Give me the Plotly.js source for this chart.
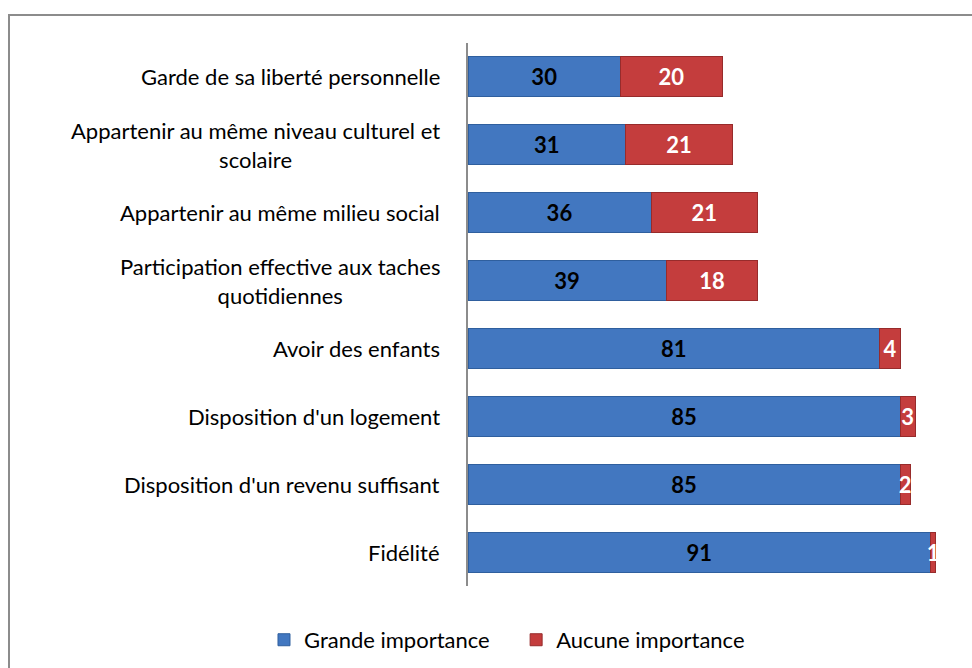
<!DOCTYPE html>
<html>
<head>
<meta charset="utf-8">
<script src="https://cdn.plot.ly/plotly-3.0.1.min.js"></script>
<style>
  body { margin: 0; background: #fff; }
  #chart { width: 972px; height: 668px; position: relative; }
  #frame { position: absolute; left: 8px; top: 14px; width: 980px; height: 680px;
           border-left: 2px solid #8c8c8c; border-top: 2px solid #8c8c8c;
           pointer-events: none; }
</style>
</head>
<body>
<div id="chart"></div>
<div id="frame"></div>
<script>
// bottom to top
var categories = [
    'Fidélité',
    "Disposition d'un revenu suffisant",
    "Disposition d'un logement",
    'Avoir des enfants',
    'Participation effective aux taches<br>quotidiennes',
    'Appartenir au même milieu social',
    'Appartenir au même niveau culturel et<br>scolaire',
    'Garde de sa liberté personnelle'
];
var grande = [91, 85, 85, 81, 39, 36, 31, 30];
var aucune = [1, 2, 3, 4, 18, 21, 21, 20];

var textFont = 'Lato, "Open Sans", sans-serif';

var trGrande = {
    y: categories,
    x: grande,
    type: 'bar',
    orientation: 'h',
    name: 'Grande importance',
    legend: 'legend',
    text: grande.map(String),
    textposition: 'inside',
    insidetextanchor: 'middle',
    constraintext: 'none',
    textfont: { family: textFont, size: 22, color: '#000', weight: 'bold' },
    marker: { color: '#4277c0', line: { color: '#2f5f9e', width: 1 } },
    hoverinfo: 'x+name'
};

var trAucune = {
    y: categories,
    x: aucune,
    type: 'bar',
    orientation: 'h',
    name: 'Aucune importance',
    legend: 'legend2',
    text: aucune.map(String),
    textposition: 'inside',
    insidetextanchor: 'middle',
    constraintext: 'none',
    textfont: { family: textFont, size: 22, color: '#fff', weight: 'bold' },
    marker: { color: '#c43d3d', line: { color: '#972b2b', width: 1 } },
    cliponaxis: false,
    hoverinfo: 'x+name'
};

var labels = categories.map(function (c) {
    return {
        x: 0, y: c, xref: 'x', yref: 'y',
        text: c, showarrow: false,
        xanchor: 'right', align: 'center', xshift: -26,
        font: { family: textFont, size: 22, color: '#000' }
    };
});

var legendFont = { family: textFont, size: 22, color: '#000' };

var layout = {
    width: 972,
    height: 668,
    margin: { l: 468, r: 16, t: 43, b: 82 },
    barmode: 'stack',
    bargap: 0.41,
    paper_bgcolor: '#fff',
    plot_bgcolor: '#fff',
    font: { family: textFont, size: 22, color: '#000' },
    xaxis: {
        range: [0, 96],
        showgrid: false,
        zeroline: false,
        showticklabels: false,
        showline: false
    },
    yaxis: {
        showgrid: false,
        showticklabels: false,
        showline: true,
        linecolor: '#8c8c8c',
        linewidth: 1.5,
        ticks: ''
    },
    annotations: labels,
    showlegend: true,
    legend: {
        orientation: 'h',
        xref: 'container', yref: 'container',
        x: 0.2716, xanchor: 'left',
        y: 0.042, yanchor: 'middle',
        font: legendFont
    },
    legend2: {
        orientation: 'h',
        xref: 'container', yref: 'container',
        x: 0.531, xanchor: 'left',
        y: 0.042, yanchor: 'middle',
        font: legendFont
    }
};

Plotly.newPlot('chart', [trGrande, trAucune], layout, { displayModeBar: false });
</script>
</body>
</html>
